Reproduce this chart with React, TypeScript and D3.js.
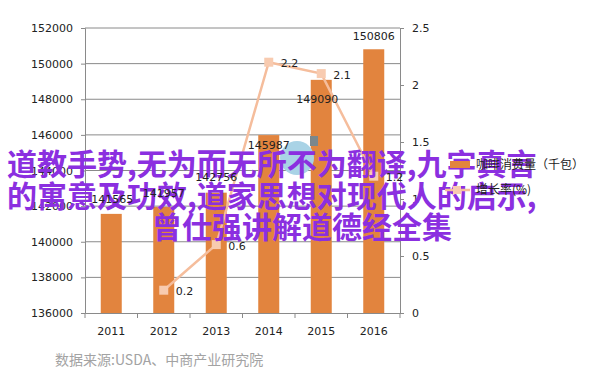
import React, { useEffect, useRef } from 'react';
import * as d3 from 'd3';

// chart data
const years = ['2011', '2012', '2013', '2014', '2015', '2016'];
const consumption = [141565, 141957, 142756, 145987, 149090, 150806];
const growth: (number | null)[] = [null, 0.2, 0.6, 2.2, 2.1, 1.2];
const leftTicks = [136000, 138000, 140000, 142000, 144000, 146000, 148000, 150000, 152000];
const rightTicks = [0, 0.5, 1, 1.5, 2, 2.5];
const legendLabels = ['咖啡消费量（千包）', '增长率(%)'];
const sourceText = '数据来源:USDA、中商产业研究院';
const overlayLines = [
    '道教手势,无为而无所不为翻译,九字真言',
    '的寓意及功效,道家思想对现代人的启示,',
    '曾仕强讲解道德经全集'
];

// bar label nudges (label placement in the original is uneven)
const labelShift = [[1, -11], [0, -10], [0, -12], [0, 14], [-4, 23], [0, -9]];

const BAR = '#e2843e';
const LINE = '#f5bd9c';
const AXIS = '#8a8a8a';
const NUM_FONT = '"DejaVu Sans", sans-serif';
const CJK_FONT = '"Noto Sans CJK SC", sans-serif';

export default function App() {
    const svgRef = useRef<SVGSVGElement>(null);

    useEffect(() => {
        const svg = d3.select(svgRef.current);
        svg.selectAll('*').remove();

        const left = 85, right = 400, top = 28, bottom = 313;

        const x = d3.scaleBand().domain(years).range([left, right]).padding(0);
        const yL = d3.scaleLinear().domain([136000, 152000]).range([bottom, top]);
        const yR = d3.scaleLinear().domain([0, 2.5]).range([bottom, top]);
        const barW = x.bandwidth() * 0.4;
        const cx = (d: string) => (x(d) as number) + x.bandwidth() / 2;

        // gridlines
        svg.append('g')
            .selectAll('line')
            .data(leftTicks.slice(1))
            .enter()
            .append('line')
            .attr('x1', left)
            .attr('x2', right)
            .attr('y1', d => yL(d))
            .attr('y2', d => yL(d))
            .attr('stroke', AXIS)
            .attr('stroke-width', 1);

        // bars
        svg.append('g')
            .selectAll('rect')
            .data(consumption)
            .enter()
            .append('rect')
            .attr('x', (d, i) => cx(years[i]) - barW / 2)
            .attr('y', d => yL(d))
            .attr('width', barW)
            .attr('height', d => bottom - yL(d))
            .attr('fill', BAR);

        // axes
        const yAxisL = svg.append('g')
            .attr('transform', `translate(${left},0)`)
            .call(d3.axisLeft(yL).tickValues(leftTicks).tickSize(4).tickFormat(d => String(d)));
        const yAxisR = svg.append('g')
            .attr('transform', `translate(${right},0)`)
            .call(d3.axisRight(yR).tickValues(rightTicks).tickSize(4).tickFormat(d => String(d)));
        const xAxis = svg.append('g')
            .attr('transform', `translate(0,${bottom})`)
            .call(d3.axisBottom(x).tickSize(0).tickFormat(d => d));

        // category boundary ticks
        svg.append('g')
            .selectAll('line')
            .data(d3.range(years.length + 1))
            .enter()
            .append('line')
            .attr('x1', i => left + i * x.step())
            .attr('x2', i => left + i * x.step())
            .attr('y1', bottom)
            .attr('y2', bottom + 5)
            .attr('stroke', AXIS);

        [yAxisL, yAxisR, xAxis].forEach(g => {
            g.selectAll('path, line').attr('stroke', AXIS);
            g.selectAll('text')
                .attr('fill', '#222')
                .style('font-family', NUM_FONT)
                .style('font-size', '11px');
        });
        yAxisL.selectAll('text').attr('x', -12);
        yAxisR.selectAll('text').attr('x', 12);
        xAxis.selectAll('text').attr('dy', '1.75em');

        // growth line
        const pts = growth
            .map((g, i) => ({ year: years[i], g }))
            .filter(d => d.g !== null) as { year: string; g: number }[];
        const line = d3.line<{ year: string; g: number }>()
            .x(d => cx(d.year))
            .y(d => yR(d.g));
        svg.append('path')
            .datum(pts)
            .attr('d', line)
            .attr('fill', 'none')
            .attr('stroke', LINE)
            .attr('stroke-width', 2.5);
        svg.append('g')
            .selectAll('rect')
            .data(pts)
            .enter()
            .append('rect')
            .attr('x', d => cx(d.year) - 4.5)
            .attr('y', d => yR(d.g) - 4.5)
            .attr('width', 9)
            .attr('height', 9)
            .attr('fill', '#f8cbb0');

        // logo blob behind overlay
        svg.append('circle')
            .attr('cx', 297)
            .attr('cy', 158)
            .attr('r', 17)
            .attr('fill', '#a9d3e6');
        svg.append('rect')
            .attr('x', 310)
            .attr('y', 136)
            .attr('width', 8)
            .attr('height', 10)
            .attr('fill', '#7c878c');

        // overlay title text
        const overlay = svg.append('g')
            .style('font-family', CJK_FONT)
            .style('font-size', '30px')
            .style('font-weight', 'bold')
            .attr('fill', '#8b2fe0');
        overlay.append('text').attr('x', 7).attr('y', 175).text(overlayLines[0]);
        overlay.append('text').attr('x', 7).attr('y', 207).text(overlayLines[1]);
        overlay.append('text').attr('x', 302).attr('y', 238).attr('text-anchor', 'middle').text(overlayLines[2]);

        // bar value labels
        svg.append('g')
            .selectAll('text')
            .data(consumption)
            .enter()
            .append('text')
            .attr('x', (d, i) => cx(years[i]) + labelShift[i][0])
            .attr('y', (d, i) => yL(d) + labelShift[i][1])
            .attr('text-anchor', 'middle')
            .attr('fill', '#222')
            .style('font-family', NUM_FONT)
            .style('font-size', '11px')
            .text(d => d);

        // growth labels
        svg.append('g')
            .selectAll('text')
            .data(pts)
            .enter()
            .append('text')
            .attr('x', d => cx(d.year) + 12)
            .attr('y', d => yR(d.g) + 5)
            .attr('fill', '#222')
            .style('font-family', NUM_FONT)
            .style('font-size', '11px')
            .text(d => d.g);

        // legend
        const legend = svg.append('g');
        legend.append('rect')
            .attr('x', 450).attr('y', 161).attr('width', 20).attr('height', 7)
            .attr('fill', BAR);
        legend.append('line')
            .attr('x1', 445).attr('x2', 470).attr('y1', 190).attr('y2', 190)
            .attr('stroke', LINE).attr('stroke-width', 2.5);
        legend.append('rect')
            .attr('x', 453).attr('y', 186).attr('width', 8).attr('height', 8)
            .attr('fill', '#f8cbb0');
        legend.selectAll('text')
            .data(legendLabels)
            .enter()
            .append('text')
            .attr('x', 476)
            .attr('y', (d, i) => 169 + i * 25)
            .attr('fill', '#222')
            .style('font-family', CJK_FONT)
            .style('font-size', '12px')
            .text(d => d);

        // source note
        svg.append('text')
            .attr('x', 55)
            .attr('y', 365)
            .attr('fill', '#a3a3a3')
            .style('font-family', CJK_FONT)
            .style('font-size', '14px')
            .text(sourceText);
    }, []);

    return (
        <svg
            ref={svgRef}
            width={602}
            height={384}
            style={{ position: 'absolute', left: 0, top: 0, background: '#fff' }}
        ></svg>
    );
}
